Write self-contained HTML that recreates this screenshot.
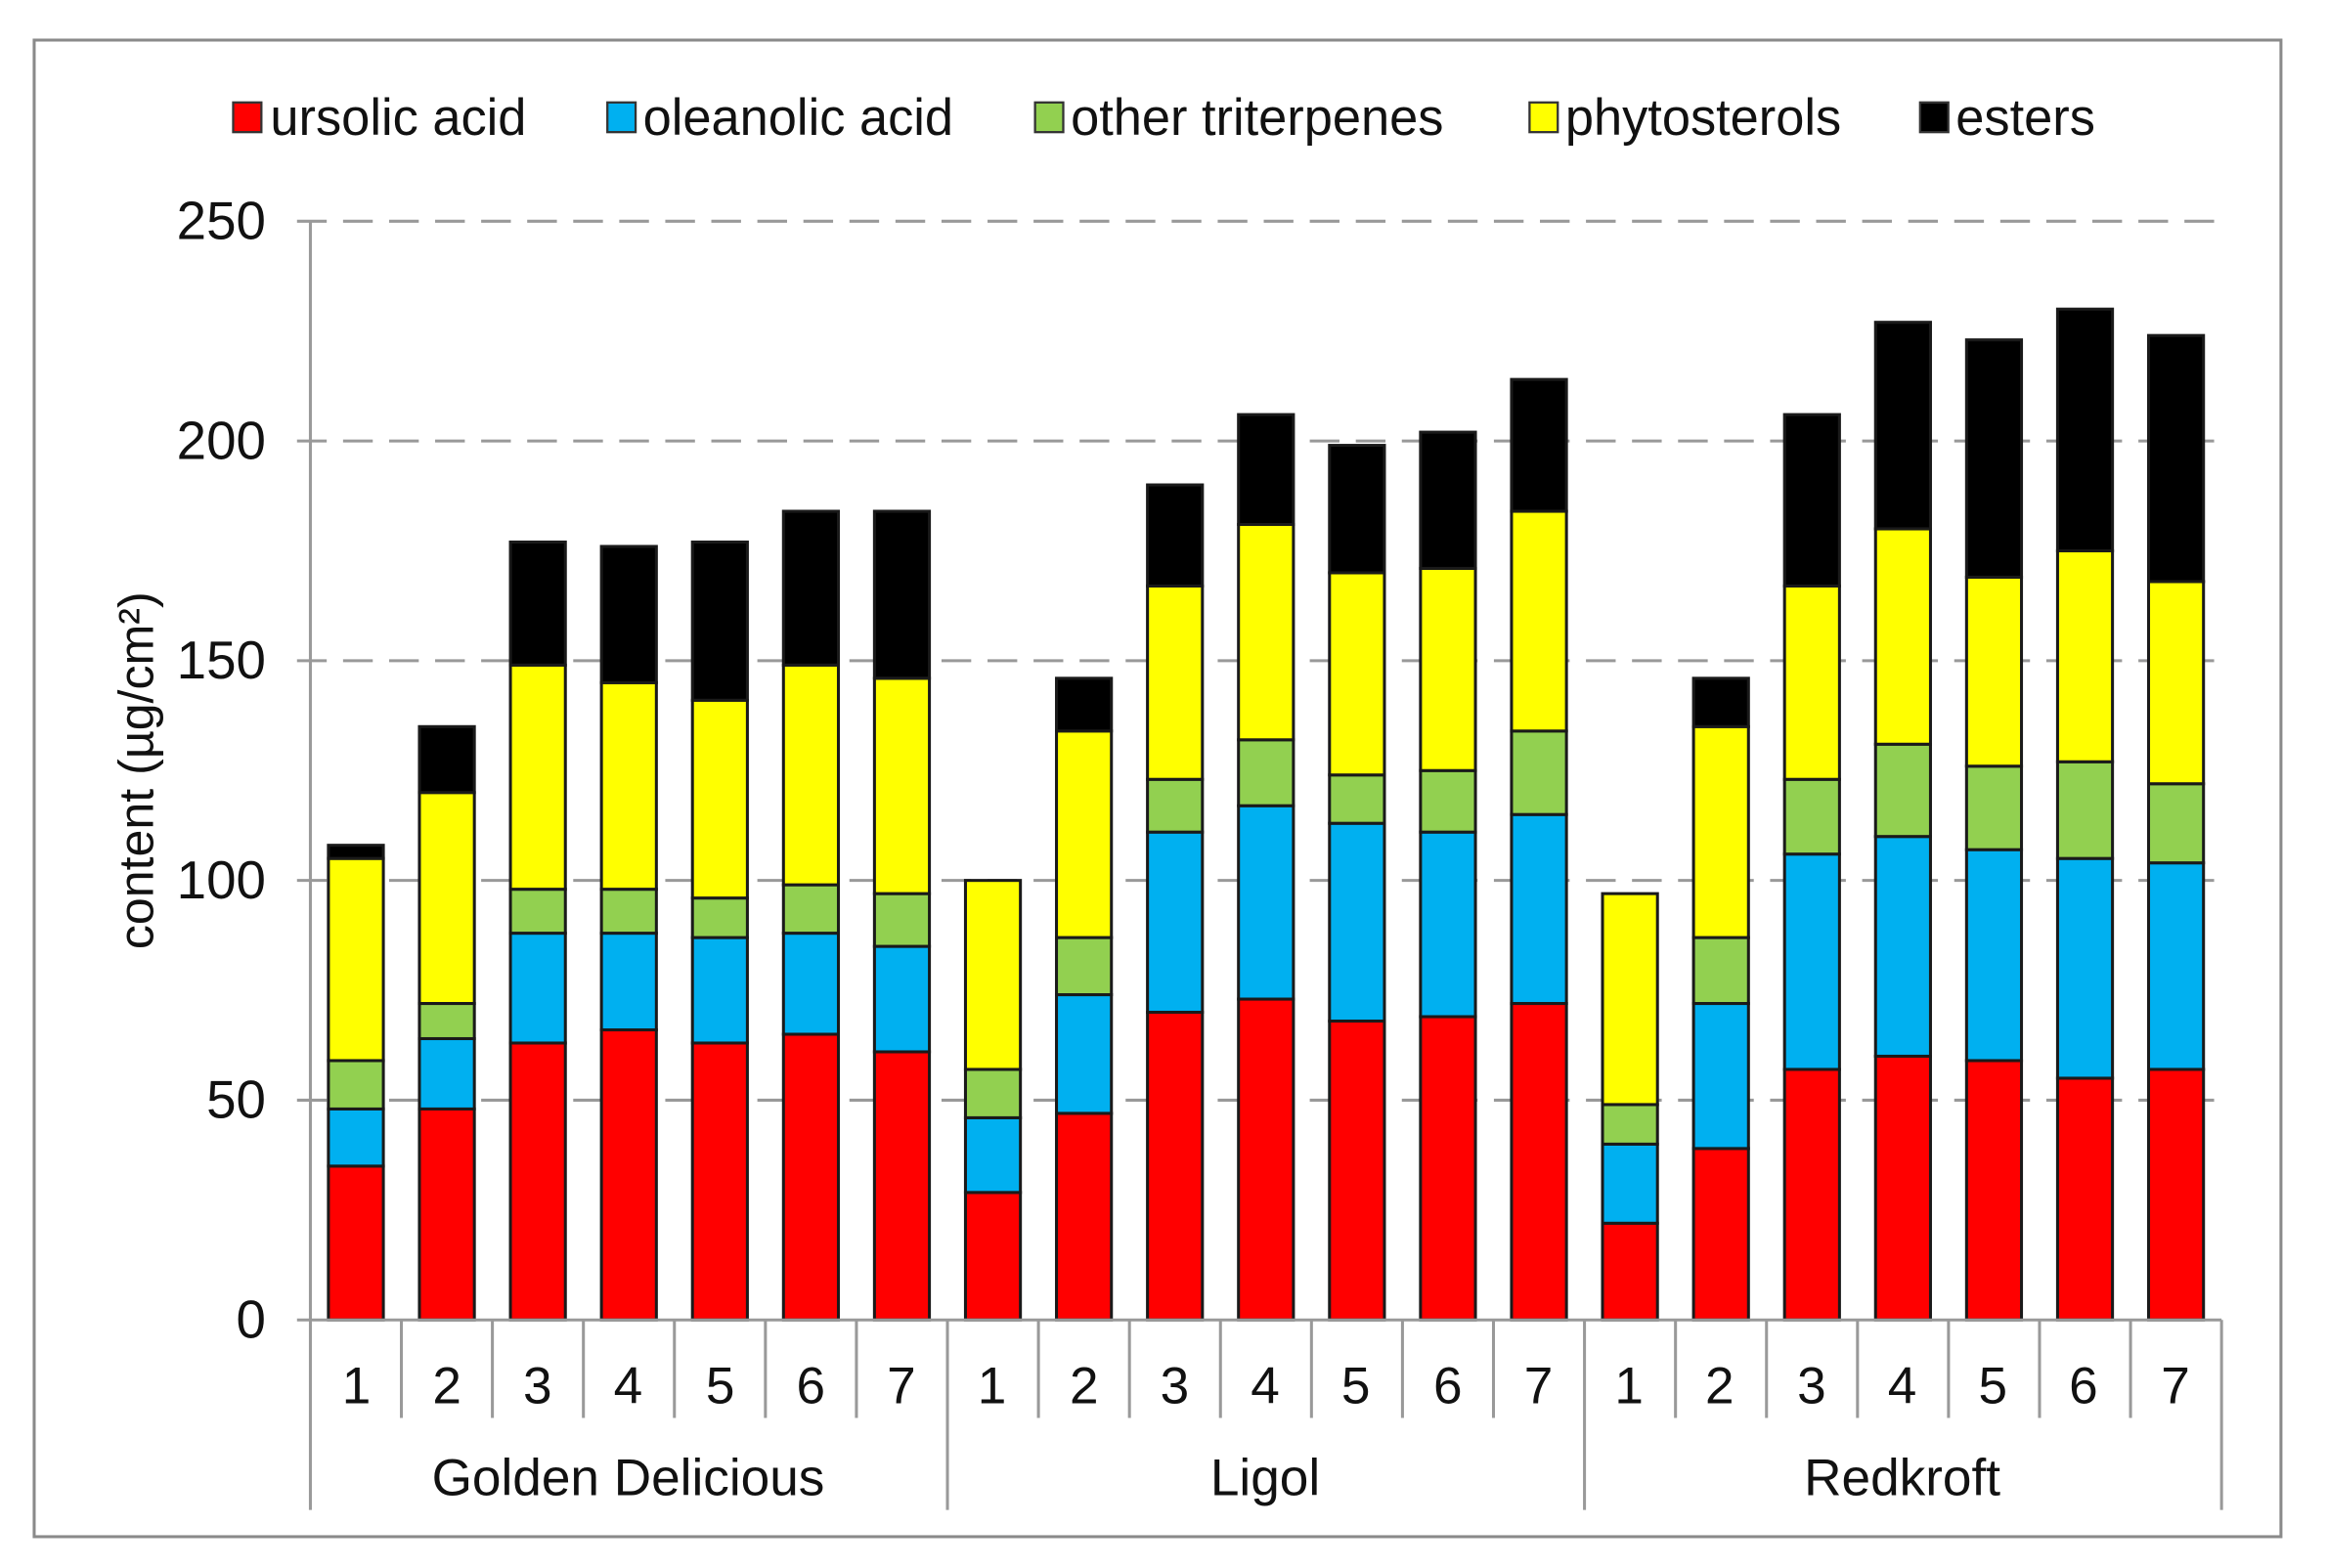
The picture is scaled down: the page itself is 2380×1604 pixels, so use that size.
<!DOCTYPE html>
<html><head><meta charset="utf-8"><style>html,body{margin:0;padding:0;background:#fff}svg{display:block}</style></head>
<body>
<svg width="2380" height="1604" viewBox="0 0 1567 1056.1" xmlns="http://www.w3.org/2000/svg" font-family="Liberation Sans, Arial, sans-serif">
<rect x="0" y="0" width="1567" height="1057" fill="#fff"/>
<rect x="23" y="27" width="1513" height="1008" fill="none" stroke="#8a8a8a" stroke-width="2"/>
<!-- legend -->
<g font-size="34.5" fill="#111">
<rect x="157" y="69" width="19" height="20" fill="#ff0000" stroke="#333" stroke-width="1.5"/><text x="182" y="91">ursolic acid</text>
<rect x="409" y="69" width="19" height="20" fill="#00b0f0" stroke="#333" stroke-width="1.5"/><text x="433" y="91">oleanolic acid</text>
<rect x="697" y="69" width="19" height="20" fill="#92d050" stroke="#333" stroke-width="1.5"/><text x="721" y="91">other triterpenes</text>
<rect x="1030" y="69" width="19" height="20" fill="#ffff00" stroke="#333" stroke-width="1.5"/><text x="1054" y="91">phytosterols</text>
<rect x="1293" y="69" width="19" height="20" fill="#000" stroke="#333" stroke-width="1.5"/><text x="1317" y="91">esters</text>
</g>
<!-- grid -->
<g stroke="#999" stroke-width="2" stroke-dasharray="20,11">
<line x1="200" y1="149" x2="1496" y2="149"/>
<line x1="200" y1="297" x2="1496" y2="297"/>
<line x1="200" y1="445" x2="1496" y2="445"/>
<line x1="200" y1="593" x2="1496" y2="593"/>
<line x1="200" y1="741" x2="1496" y2="741"/>
</g>
<g font-size="36" fill="#111" text-anchor="end">
<text x="179" y="161">250</text><text x="179" y="309">200</text><text x="179" y="457">150</text><text x="179" y="605">100</text><text x="179" y="753">50</text><text x="179" y="901">0</text>
</g>
<text transform="translate(103,519) rotate(-90)" font-size="33" fill="#111" text-anchor="middle">content (µg/cm²)</text>
<g id="bars"></g>
<g stroke="#999" stroke-width="2">
<line x1="209" y1="149" x2="209" y2="889"/>
<line x1="200" y1="889" x2="1496" y2="889"/>
<g id="seps"></g>
</g>
<g font-size="35" fill="#111" text-anchor="middle" id="nums">
<text x="240" y="945">1</text><text x="301" y="945">2</text><text x="362" y="945">3</text><text x="423" y="945">4</text><text x="485" y="945">5</text><text x="546" y="945">6</text><text x="607" y="945">7</text>
<text x="668" y="945">1</text><text x="730" y="945">2</text><text x="791" y="945">3</text><text x="852" y="945">4</text><text x="913" y="945">5</text><text x="975" y="945">6</text><text x="1036" y="945">7</text>
<text x="1097" y="945">1</text><text x="1158" y="945">2</text><text x="1220" y="945">3</text><text x="1281" y="945">4</text><text x="1342" y="945">5</text><text x="1403" y="945">6</text><text x="1465" y="945">7</text>
<text x="423" y="1007">Golden Delicious</text><text x="852" y="1007">Ligol</text><text x="1281" y="1007">Redkroft</text>
</g>
<script>
var d=[[35,48,59,105,108],[48,64,72,120,135],[63,88,98,149,177],[66,88,98,145,176],[63,87,96,141,177],[65,88,99,149,184],[61,85,97,146,184],
[29,46,57,100,100],[47,74,87,134,146],[70,111,123,167,190],[73,117,132,181,206],[68,113,124,170,199],[69,111,125,171,202],[72,115,134,184,214],
[22,40,49,97,97],[39,72,87,135,146],[57,106,123,167,206],[60,110,131,180,227],[59,107,126,169,223],[55,105,127,175,230],[57,104,122,168,224]];
var c=["#ff0000","#00b0f0","#92d050","#ffff00","#000000"];
var ns="http://www.w3.org/2000/svg",g=document.getElementById("bars"),s=document.getElementById("seps");
var w=(1496-209)/21,Y=function(v){return 889-v*2.96;};
d.forEach(function(b,i){var cx=209+w*(i+0.5),prev=0;b.forEach(function(v,k){if(v-prev>0.01){var r=document.createElementNS(ns,"rect");
r.setAttribute("x",cx-18.5);r.setAttribute("width",37);r.setAttribute("y",Y(v));r.setAttribute("height",Y(prev)-Y(v));
r.setAttribute("fill",c[k]);r.setAttribute("stroke","#1a1a1a");r.setAttribute("stroke-width","2");g.appendChild(r);}prev=v;});});
for(var i=0;i<=21;i++){var x=209+w*i,l=document.createElementNS(ns,"line");l.setAttribute("x1",x);l.setAttribute("x2",x);l.setAttribute("y1",889);
l.setAttribute("y2",i%7==0?1017:955);s.appendChild(l);}
</script>
</svg>
</body></html>
